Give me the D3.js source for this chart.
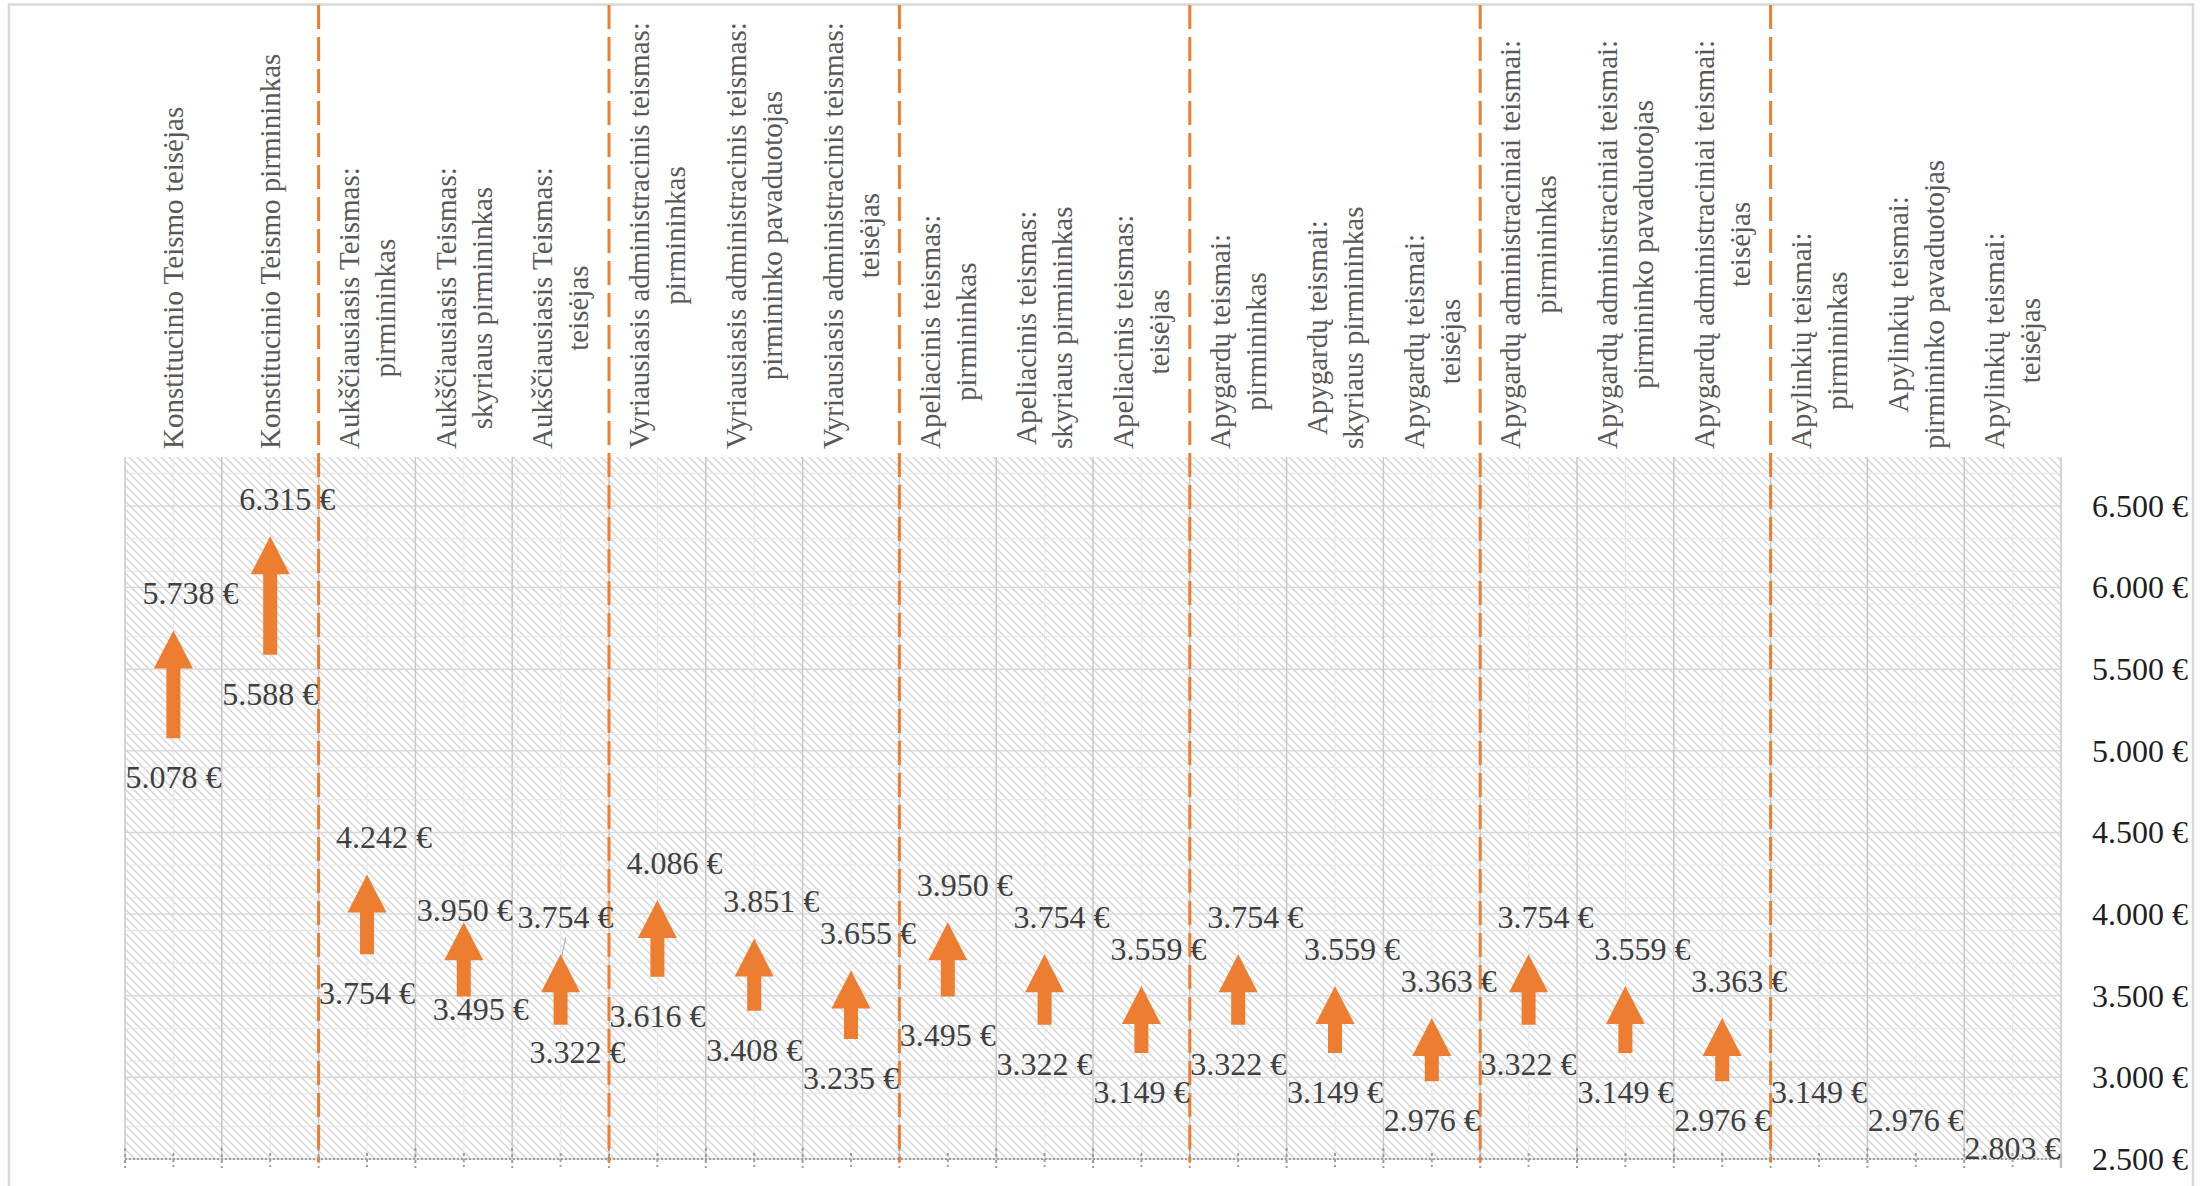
<!DOCTYPE html>
<html lang="lt">
<head>
  <meta charset="UTF-8" />
  <title>Teisėjų atlyginimai</title>
  <style>
    body { margin: 0; background: #fff; }
    svg { display: block; font-family: 'Liberation Serif', 'Times New Roman', serif; }
    .cat text { fill: #595959; font-size: 29px; }
    .val { fill: #404040; font-size: 32px; }
    .ytick { fill: #1f1f1f; font-size: 32px; }
  </style>
</head>
<body>
  <svg id="chart"></svg>

  <script src="https://d3js.org/d3.v7.min.js"></script>
  <script>
    // category labels, one array of lines per column
    const categories = [
      ["Konstitucinio Teismo teisėjas"],
      ["Konstitucinio Teismo pirmininkas"],
      ["Aukščiausiasis Teismas:", "pirmininkas"],
      ["Aukščiausiasis Teismas:", "skyriaus pirmininkas"],
      ["Aukščiausiasis Teismas:", "teisėjas"],
      ["Vyriausiasis administracinis teismas:", "pirmininkas"],
      ["Vyriausiasis administracinis teismas:", "pirmininko pavaduotojas"],
      ["Vyriausiasis administracinis teismas:", "teisėjas"],
      ["Apeliacinis teismas:", "pirmininkas"],
      ["Apeliacinis teismas:", "skyriaus pirmininkas"],
      ["Apeliacinis teismas:", "teisėjas"],
      ["Apygardų teismai:", "pirmininkas"],
      ["Apygardų teismai:", "skyriaus pirmininkas"],
      ["Apygardų teismai:", "teisėjas"],
      ["Apygardų administraciniai teismai:", "pirmininkas"],
      ["Apygardų administraciniai teismai:", "pirmininko pavaduotojas"],
      ["Apygardų administraciniai teismai:", "teisėjas"],
      ["Apylinkių teismai:", "pirmininkas"],
      ["Apylinkių teismai:", "pirmininko pavaduotojas"],
      ["Apylinkių teismai:", "teisėjas"]
    ];
    const lowValues = [5078, 5588, 3754, 3495, 3322, 3616, 3408, 3235, 3495, 3322,
                       3149, 3322, 3149, 2976, 3322, 3149, 2976, 3149, 2976, 2803];
    const highValues = [5738, 6315, 4242, 3950, 3754, 4086, 3851, 3655, 3950, 3754,
                        3559, 3754, 3559, 3363, 3754, 3559, 3363, null, null, null];
    // court groups start at these column indices (dashed separators)
    const groupStarts = [2, 5, 8, 11, 14, 17];
    const yTicks = [2500, 3000, 3500, 4000, 4500, 5000, 5500, 6000, 6500];
    const yMinorTicks = [2700, 2900, 3100, 3300, 3700, 3900, 4100, 4300, 4700, 4900,
                         5100, 5300, 5700, 5900, 6100, 6300, 6700];

    const W = 2210, H = 1186;
    const orange = "#ED7D31";

    // labels that were moved by hand in the original
    const nudges = {
      3: { high: [-16, 25], low: [17, -26] },
      4: { high: [-12, 0], low: [17, -12], leader: true }
    };

    const lt = d3.formatLocale({ decimal: ",", thousands: ".", grouping: [3], currency: ["", " €"] });
    const fmt = lt.format("$,.0f");

    const svg = d3.select("#chart").attr("width", W).attr("height", H);

    const x = d3.scaleBand()
      .domain(d3.range(categories.length))
      .range([125, 2061])
      .padding(0);
    const y = d3.scaleLinear().domain([2500, 6800]).range([1159, 457]);

    const defs = svg.append("defs");
    const pat = defs.append("pattern")
      .attr("id", "hatch")
      .attr("patternUnits", "userSpaceOnUse")
      .attr("width", 8).attr("height", 8);
    pat.append("rect").attr("width", 8).attr("height", 8).attr("fill", "#fff");
    pat.append("path")
      .attr("d", "M0,0L8,8M-2,6L2,10M6,-2L10,2")
      .attr("stroke", "#d6d6d6").attr("stroke-width", 1.5);

    // outer chart frame
    svg.append("rect")
      .attr("x", 9).attr("y", 4.5).attr("width", 2184).attr("height", 1220)
      .attr("fill", "none").attr("stroke", "#d9d9d9").attr("stroke-width", 2.5);

    const [x0, x1] = x.range();
    const [yb, yt] = y.range();

    svg.append("rect")
      .attr("x", x0).attr("y", yt)
      .attr("width", x1 - x0).attr("height", yb - yt)
      .attr("fill", "url(#hatch)");

    // minor gridlines
    svg.append("g").selectAll("line").data(yMinorTicks).join("line")
      .attr("x1", x0).attr("x2", x1)
      .attr("y1", d => y(d)).attr("y2", d => y(d))
      .attr("stroke", "#e8e8e8").attr("stroke-width", 1);
    svg.append("g").selectAll("line").data(d3.range(categories.length)).join("line")
      .attr("x1", d => x(d) + x.bandwidth() / 2).attr("x2", d => x(d) + x.bandwidth() / 2)
      .attr("y1", yt).attr("y2", yb)
      .attr("stroke", "#e8e8e8").attr("stroke-width", 1);

    // major gridlines
    svg.append("g").selectAll("line").data(yTicks).join("line")
      .attr("x1", x0).attr("x2", x1)
      .attr("y1", d => y(d)).attr("y2", d => y(d))
      .attr("stroke", "#d9d9d9").attr("stroke-width", 1.5);
    svg.append("g").selectAll("line").data(d3.range(categories.length + 1)).join("line")
      .attr("x1", d => x0 + d * x.bandwidth()).attr("x2", d => x0 + d * x.bandwidth())
      .attr("y1", yt).attr("y2", yb)
      .attr("stroke", "#c9c9c9").attr("stroke-width", 1.5);

    // x axis: dotted line with ticks
    const ax = svg.append("g").attr("stroke", "#9e9e9e").attr("stroke-width", 2);
    ax.append("line")
      .attr("x1", x0).attr("x2", x1).attr("y1", yb).attr("y2", yb)
      .attr("stroke-dasharray", "2,2");
    ax.selectAll(".maj").data(d3.range(categories.length)).join("line")
      .attr("x1", d => x(d)).attr("x2", d => x(d))
      .attr("y1", yb - 11).attr("y2", yb + 9)
      .attr("stroke-dasharray", "3,3");
    ax.selectAll(".min").data(d3.range(categories.length)).join("line")
      .attr("x1", d => x(d) + x.bandwidth() / 2).attr("x2", d => x(d) + x.bandwidth() / 2)
      .attr("y1", yb - 6).attr("y2", yb + 8)
      .attr("stroke-dasharray", "3,3");
    ax.append("line")
      .attr("x1", x1).attr("x2", x1).attr("y1", yb - 6).attr("y2", yb + 9)
      .attr("stroke", "#bdbdbd").attr("stroke-width", 2.5);

    // y tick labels on the right
    svg.append("g").selectAll("text").data(yTicks).join("text")
      .attr("class", "ytick")
      .attr("x", 2188).attr("y", d => y(d))
      .attr("dy", "0.34em")
      .attr("text-anchor", "end")
      .text(fmt);

    // category labels, rotated, bottom aligned, lines centred
    const lineGap = 36, fs = 29;
    const cat = svg.append("g").attr("class", "cat");
    categories.forEach((lines, i) => {
      const cx = x(i) + x.bandwidth() / 2;
      const g = cat.append("g");
      const texts = lines.map((ln, j) => g.append("text")
        .attr("text-anchor", "middle")
        .text(ln));
      const maxW = d3.max(texts, t => t.node().getComputedTextLength());
      const cy = 449 - maxW / 2;
      texts.forEach((t, j) => {
        const lx = cx + (j - (lines.length - 1) / 2) * lineGap + 0.34 * fs;
        t.attr("transform", `translate(${lx},${cy}) rotate(-90)`);
      });
    });

    // group separators
    svg.append("g").selectAll("line").data(groupStarts).join("line")
      .attr("x1", d => x(d)).attr("x2", d => x(d))
      .attr("y1", 5).attr("y2", yb + 3)
      .attr("stroke", orange).attr("stroke-width", 3)
      .attr("stroke-dasharray", "24,8");

    // arrows from low to high value
    const headLen = 38, headW = 39, shaftW = 14;
    const pairs = d3.range(categories.length)
      .map(i => ({ i, lo: lowValues[i], hi: highValues[i] }));

    svg.append("g").selectAll("path").data(pairs.filter(d => d.hi != null)).join("path")
      .attr("fill", orange)
      .attr("d", d => {
        const cx = x(d.i) + x.bandwidth() / 2;
        const yt2 = y(d.hi), yl = y(d.lo);
        const hb = yt2 + headLen;
        return `M${cx},${yt2}L${cx + headW / 2},${hb}L${cx + shaftW / 2},${hb}` +
               `L${cx + shaftW / 2},${yl}L${cx - shaftW / 2},${yl}L${cx - shaftW / 2},${hb}` +
               `L${cx - headW / 2},${hb}Z`;
      });

    // value labels
    const vals = svg.append("g");
    pairs.forEach(d => {
      const cx = x(d.i) + x.bandwidth() / 2;
      const nd = nudges[d.i] || {};
      const lo = nd.low || [0, 0];
      vals.append("text").attr("class", "val")
        .attr("x", cx + lo[0]).attr("y", y(d.lo) + 39 + lo[1])
        .attr("dy", "0.34em").attr("text-anchor", "middle")
        .text(fmt(d.lo));
      if (d.hi != null) {
        const hi = nd.high || [0, 0];
        const hx = cx + 17 + hi[0], hy = y(d.hi) - 37 + hi[1];
        vals.append("text").attr("class", "val")
          .attr("x", hx).attr("y", hy)
          .attr("dy", "0.34em").attr("text-anchor", "middle")
          .text(fmt(d.hi));
        if (nd.leader) {
          vals.append("line")
            .attr("x1", hx).attr("y1", hy + 20)
            .attr("x2", cx + 1).attr("y2", y(d.hi) + 3)
            .attr("stroke", "#a6a6a6").attr("stroke-width", 1);
        }
      }
    });
  </script>
</body>
</html>
